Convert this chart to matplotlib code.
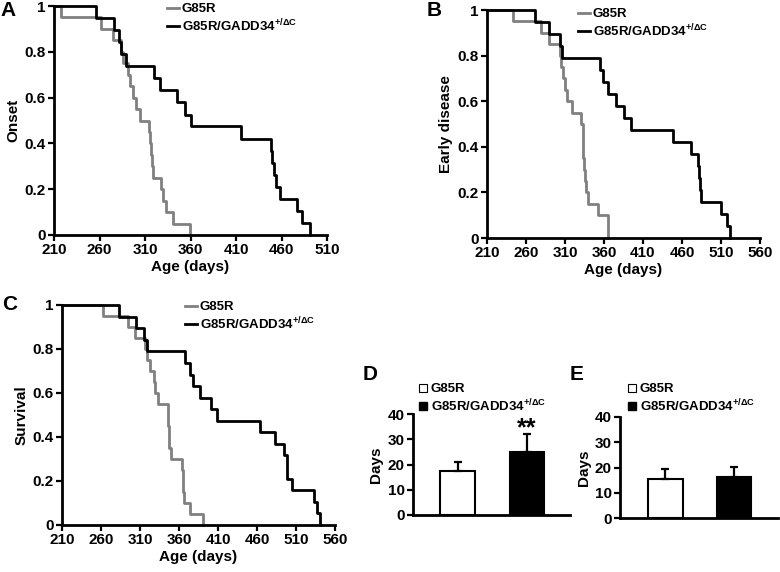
import matplotlib
matplotlib.use('Agg')
import matplotlib.pyplot as plt
from matplotlib.lines import Line2D

plt.rcParams['font.family'] = ['Liberation Sans', 'DejaVu Sans']
plt.rcParams['font.weight'] = 'bold'
plt.rcParams['axes.labelweight'] = 'bold'
plt.rcParams['mathtext.fontset'] = 'custom'
plt.rcParams['mathtext.rm'] = 'Liberation Sans:bold'
plt.rcParams['mathtext.it'] = 'Liberation Sans:bold'
plt.rcParams['mathtext.bf'] = 'Liberation Sans:bold'
plt.rcParams['mathtext.default'] = 'rm'

# Kaplan-Meier step data (event day, fraction remaining)
onset_g85r_days = [218, 262, 274.5, 284, 286, 291, 293.5, 296.5, 300, 305,
                   314.5, 315.5, 316.5, 317.5, 319, 327.5, 330, 333, 341, 359.5]
onset_g85r_frac = [0.95, 0.9, 0.85, 0.8, 0.75, 0.7, 0.65, 0.6, 0.55, 0.5,
                   0.45, 0.4, 0.35, 0.3, 0.25, 0.2, 0.15, 0.1, 0.05, 0]
onset_gadd_days = [256, 275.5, 281.5, 283.5, 289, 320, 326.5, 345.5, 353.5, 361,
                   415.5, 449, 450, 451.5, 454.5, 458.5, 476.5, 482, 491]
onset_gadd_frac = [0.947, 0.895, 0.842, 0.789, 0.737, 0.684, 0.632, 0.579, 0.526, 0.474,
                   0.421, 0.368, 0.316, 0.263, 0.211, 0.158, 0.105, 0.053, 0]

early_g85r_days = [243, 279, 290, 303.5, 305.5, 308, 310, 313, 319.5, 330.5,
                   332.5, 333, 333.5, 334, 335, 337, 340, 352, 364.5, 365]
early_g85r_frac = [0.95, 0.9, 0.85, 0.8, 0.75, 0.7, 0.65, 0.6, 0.55, 0.5,
                   0.45, 0.4, 0.35, 0.3, 0.25, 0.2, 0.15, 0.1, 0.05, 0]
early_gadd_days = [272, 290, 303.5, 306.5, 355, 359, 365, 376, 385, 394,
                   448, 471.5, 481, 482, 483, 484.5, 510, 517.5, 522]
early_gadd_frac = [0.947, 0.895, 0.842, 0.789, 0.737, 0.684, 0.632, 0.579, 0.526, 0.474,
                   0.421, 0.368, 0.316, 0.263, 0.211, 0.158, 0.105, 0.053, 0]

surv_g85r_days = [262.5, 294, 303.5, 316, 318.5, 322.5, 328.5, 329, 333.5, 346,
                  346.5, 347, 347.5, 350, 364, 364.5, 365, 367, 374, 391]
surv_g85r_frac = [0.95, 0.9, 0.85, 0.8, 0.75, 0.7, 0.65, 0.6, 0.55, 0.5,
                  0.45, 0.4, 0.35, 0.3, 0.25, 0.2, 0.15, 0.1, 0.05, 0]
surv_gadd_days = [283, 305.5, 315.5, 319.5, 367.5, 374, 377.5, 386.5, 400.5, 409,
                  463.5, 483, 495, 498, 499, 505, 533, 536.5, 540.5]
surv_gadd_frac = [0.947, 0.895, 0.842, 0.789, 0.737, 0.684, 0.632, 0.579, 0.526, 0.474,
                  0.421, 0.368, 0.316, 0.263, 0.211, 0.158, 0.105, 0.053, 0]

# bar panels
bar_d_mean = [17.6, 24.8]
bar_d_err = [3.3, 7.1]
bar_e_mean = [15.6, 16.2]
bar_e_err = [3.7, 4.0]

lab_wt = 'G85R'
lab_mut = r'G85R/GADD34$^{+/\Delta\mathrm{C}}$'

W, H = 780, 572
fig = plt.figure(figsize=(7.8, 5.72), dpi=100)


def box(x0, y0, x1, y1):
    return [x0 / W, 1 - y1 / H, (x1 - x0) / W, (y1 - y0) / H]


def style(ax):
    for s in ['top', 'right']:
        ax.spines[s].set_visible(False)
    for s in ['left', 'bottom']:
        ax.spines[s].set_linewidth(2)
    ax.tick_params(direction='out', length=4, width=1.6, labelsize=11, pad=2)


def km_panel(rect, g_days, g_frac, m_days, m_frac, xmax, ylab, leg_xy):
    ax = fig.add_axes(box(*rect))
    ax.step([210] + g_days, [1] + g_frac, where='post', color='#808080', lw=2, clip_on=False)
    ax.step([210] + m_days, [1] + m_frac, where='post', color='black', lw=2, clip_on=False)
    ax.set_xlim(210, xmax)
    ax.set_ylim(0, 1)
    ax.set_xticks(range(210, xmax + 1, 50))
    ax.set_yticks([0, 0.2, 0.4, 0.6, 0.8, 1])
    ax.set_yticklabels(['0', '0.2', '0.4', '0.6', '0.8', '1'])
    ax.set_xlabel('Age (days)', fontsize=11, labelpad=2)
    ax.set_ylabel(ylab, fontsize=11, labelpad=3)
    style(ax)
    handles = [Line2D([], [], color='#808080', lw=2), Line2D([], [], color='black', lw=2)]
    fig.legend(handles, [lab_wt, lab_mut], loc='upper left',
               bbox_to_anchor=(leg_xy[0] / W, 1 - leg_xy[1] / H), frameon=False,
               fontsize=9.5, borderpad=0, borderaxespad=0, handlelength=0.9,
               handletextpad=0.2, labelspacing=0.15)
    return ax


km_panel((54, 6, 327, 235), onset_g85r_days, onset_g85r_frac,
         onset_gadd_days, onset_gadd_frac, 510, 'Onset', (167, 3))
km_panel((487, 10, 760, 238), early_g85r_days, early_g85r_frac,
         early_gadd_days, early_gadd_frac, 560, 'Early disease', (578, 8))
km_panel((62, 305, 335, 525), surv_g85r_days, surv_g85r_frac,
         surv_gadd_days, surv_gadd_frac, 560, 'Survival', (185, 301))


def bar_panel(rect, means, errs, xlim, leg_xy):
    ax = fig.add_axes(box(*rect))
    ax.bar([1, 2], means, width=0.5, color=['white', 'black'], edgecolor='black', linewidth=1.5)
    ax.errorbar([1, 2], means, yerr=[[0, 0], errs], fmt='none', ecolor='black',
                elinewidth=1.6, capsize=3, capthick=1.6)
    ax.set_xlim(*xlim)
    ax.set_ylim(0, 40)
    ax.set_yticks([0, 10, 20, 30, 40])
    ax.set_xticks([])
    ax.set_ylabel('Days', fontsize=11, labelpad=3)
    style(ax)
    handles = [Line2D([], [], ls='none', marker='s', markersize=6, markerfacecolor='white',
                      markeredgecolor='black', markeredgewidth=0.8),
               Line2D([], [], ls='none', marker='s', markersize=6, markerfacecolor='black',
                      markeredgecolor='black')]
    fig.legend(handles, [lab_wt, lab_mut], loc='upper left',
               bbox_to_anchor=(leg_xy[0] / W, 1 - leg_xy[1] / H), frameon=False,
               fontsize=9.5, borderpad=0, borderaxespad=0, handlelength=0.7,
               handletextpad=0.25, labelspacing=0.15)
    return ax


axD = bar_panel((413, 414, 570, 515), bar_d_mean, bar_d_err, (0.355, 2.62), (418, 383))
axD.text(2, 34.5, '**', ha='center', va='center', fontsize=18, fontweight='bold')
axE = bar_panel((620, 417, 778, 518), bar_e_mean, bar_e_err, (0.34, 2.635), (627, 383))

for lab, x, y in [('A', 8, 10), ('B', 434, 10), ('C', 10, 305), ('D', 370, 374), ('E', 577, 374)]:
    fig.text(x / W, 1 - y / H, lab, fontsize=15, fontweight='bold', ha='center', va='center')

fig.savefig('out.png', dpi=100)
